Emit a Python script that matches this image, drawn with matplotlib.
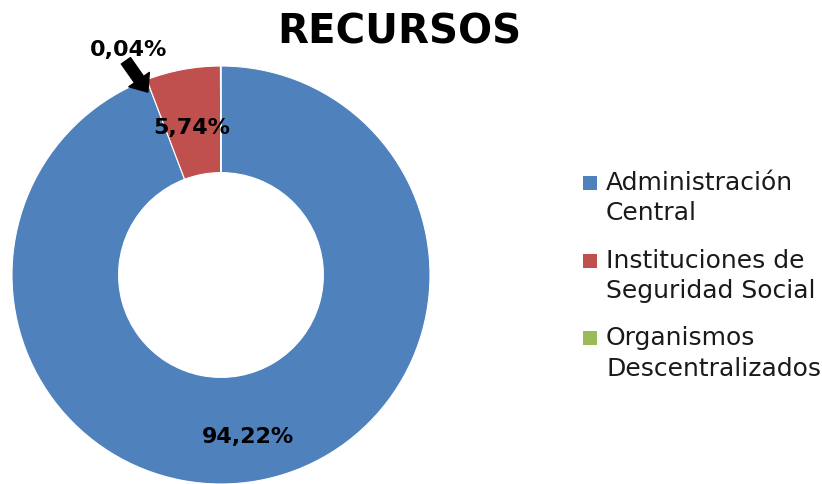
import matplotlib

matplotlib.use("Agg")
import matplotlib.pyplot as plt
from matplotlib.patches import Rectangle

# data, in legend order
labels = ["Administración\nCentral", "Instituciones de\nSeguridad Social", "Organismos\nDescentralizados"]
shares = [94.22, 5.74, 0.04]
share_text = ["94,22%", "5,74%", "0,04%"]
colors = ["#4F81BD", "#C0504D", "#9BBB59"]

W, H = 822, 484
fig = plt.figure(figsize=(W / 100, H / 100), dpi=100)

# donut: centre ~ (221, 275) px, outer radius ~209 px
r_px = 209
ax = fig.add_axes([(221 - r_px) / W, (H - 275 - r_px) / H, 2 * r_px / W, 2 * r_px / H])
wedges, _ = ax.pie(shares, colors=colors, startangle=90, counterclock=False,
                   radius=1.0, wedgeprops=dict(width=0.51, edgecolor="white", linewidth=0.8))
ax.set_xlim(-1, 1)
ax.set_ylim(-1, 1)
ax.set_aspect("equal")
ax.axis("off")

lab_kw = dict(fontsize=16, fontweight="bold", ha="center", va="center", color="black")
ax.text(0.13, -0.775, share_text[0], **lab_kw)
ax.text(-0.14, 0.705, share_text[1], **lab_kw)
ax.text(-0.44, 1.078, share_text[2], clip_on=False, **lab_kw)
ax.annotate("", xy=(-0.35, 0.875), xytext=(-0.455, 1.025), annotation_clip=False,
            arrowprops=dict(facecolor="black", edgecolor="black", width=8, headwidth=18,
                            headlength=11, shrink=0.0))

fig.text(399 / W, 1 - 32 / H, "RECURSOS", fontsize=29, fontweight="bold",
         ha="center", va="center")

# legend: square beside the first line of each two-line label
for i, (lab, c) in enumerate(zip(labels, colors)):
    y0 = 183 + i * 77.5
    fig.add_artist(Rectangle((583 / W, 1 - (y0 + 7) / H), 14 / W, 14 / H,
                             transform=fig.transFigure, facecolor=c, edgecolor="none"))
    for k, line in enumerate(lab.split("\n")):
        fig.text(606 / W, 1 - (y0 + k * 30.5) / H, line, fontsize=18,
                 ha="left", va="center", color="#1a1a1a")

fig.savefig("out.png", dpi=100)
